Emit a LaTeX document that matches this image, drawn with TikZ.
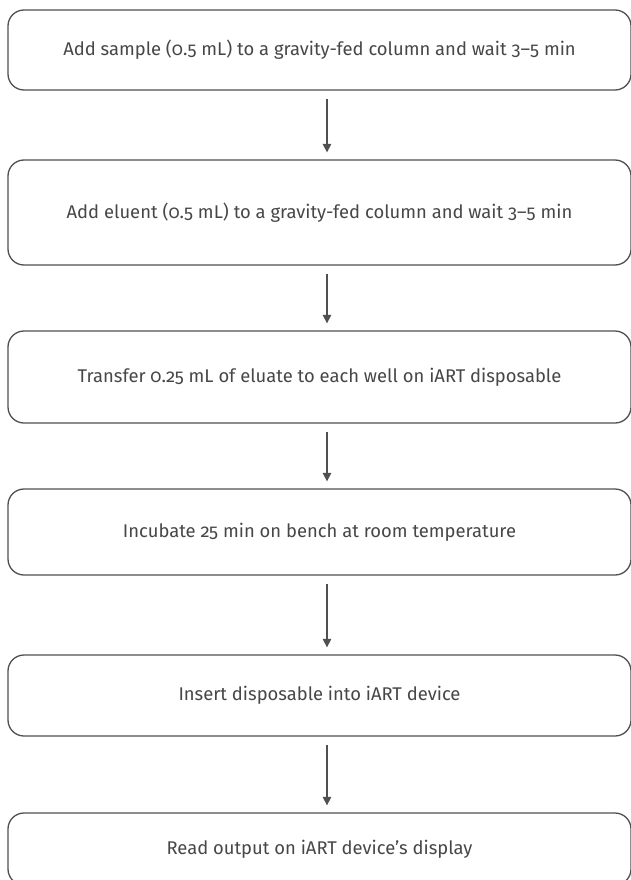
\documentclass[tikz,border=0pt]{standalone}
\usepackage{fontspec}
\setmainfont{Fira Sans}[Numbers=OldStyle]
\usetikzlibrary{arrows.meta,calc}
\definecolor{linegray}{HTML}{505050}
\definecolor{textgray}{HTML}{474747}
\tikzset{
  stepbox/.style={draw=linegray, line width=1.3pt, rounded corners=16pt,
    minimum width=623pt, inner sep=0pt, font=\fontsize{18.4}{22}\selectfont,
    text=textgray, fill=white},
  flowarrow/.style={draw=linegray, line width=1.2pt,
    -{Triangle[width=8.5pt,length=8.5pt]}}
}
\begin{document}
\begin{tikzpicture}[x=1pt,y=-1pt]
\useasboundingbox (0,0) rectangle (631,880);
\node[stepbox, minimum height=80pt] (b1) at (319.5,50) {Add sample (0.5 mL) to a gravity-fed column and wait 3–5 min};
\node[stepbox, minimum height=105pt] (b2) at (319.5,212.5) {Add eluent (0.5 mL) to a gravity-fed column and wait 3–5 min};
\node[stepbox, minimum height=92pt] (b3) at (319.5,377) {Transfer 0.25 mL of eluate to each well on iART disposable};
\node[stepbox, minimum height=86pt] (b4) at (319.5,532) {Incubate 25 min on bench at room temperature};
\node[stepbox, minimum height=81pt] (b5) at (319.5,695.5) {Insert disposable into iART device};
\node[stepbox, minimum height=72pt] (b6) at (319.5,849) {Read output on iART device’s display};
\coordinate (ax) at (327,0);
\foreach \a/\b in {b1/b2,b2/b3,b3/b4,b4/b5,b5/b6}{
  \draw[flowarrow] ($(\a.south -| ax)+(0,8)$) -- ($(\b.north -| ax)+(0,-7)$);
}
\end{tikzpicture}
\end{document}
